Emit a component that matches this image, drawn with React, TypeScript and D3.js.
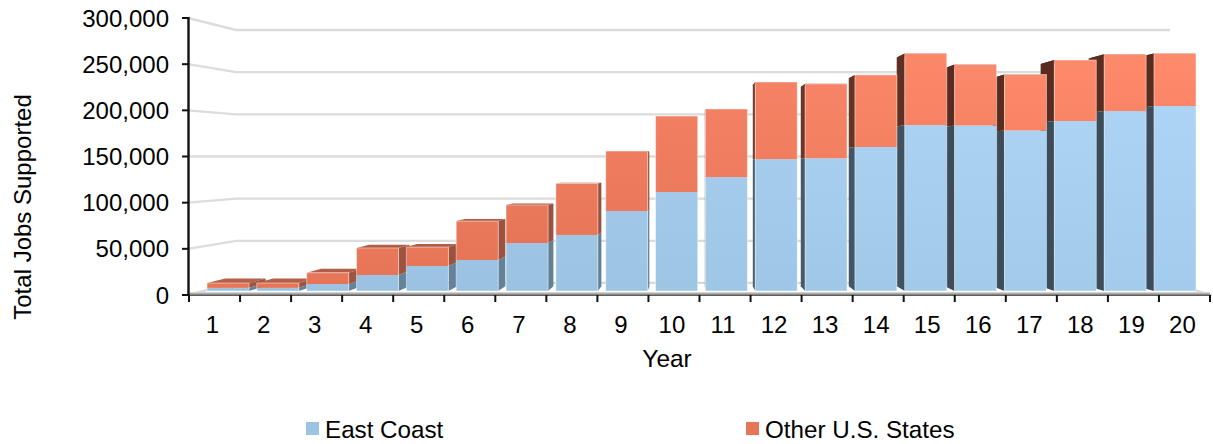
import React from "react";
import * as d3 from "d3";

const years = d3.range(1, 21).map(String);
const eastCoast = [3500, 3500, 7800, 17800, 27900, 34600, 53500, 62500, 89200, 110400, 127000, 147000, 148000, 160600, 185000, 184600, 179000, 189600, 200700, 206300];
const otherStates = [5400, 5400, 12600, 30200, 21100, 43400, 42500, 57500, 66800, 84600, 76000, 86000, 83000, 80400, 80000, 68000, 62400, 68000, 63300, 58700];
const yTicks = [0, 50000, 100000, 150000, 200000, 250000, 300000];
const seriesNames = ["East Coast", "Other U.S. States"];

const W = 1213, H = 444;
const FONT = "'Liberation Sans', Arial, sans-serif";
const axisFront = d3.scaleLinear().domain([0, 300000]).range([295, 18]);
const axisBack = d3.scaleLinear().domain([0, 300000]).range([283, 30]);
const barY = d3.scaleLinear().domain([0, 300000]).range([291, 22]);
const barX = d3.scaleBand<string>().domain(years).range([207, 1196]).paddingInner(0.157).paddingOuter(0);
const tickX = d3.scaleBand<string>().domain(years).range([189, 1210]);
const VX = 690, VY = 165, T = 0.0375;
const shift = (x: number, y: number): [number, number] => [x + (VX - x) * T, y + (VY - y) * T];

const tone = d3.scaleLinear<number>().domain([0, 6, 10, 14, 19]).range([0, 0.05, 0.45, 0.85, 1]).clamp(true);
const sideTone = d3.scaleLinear<number>().domain([0, 7, 12, 15]).range([0, 0.1, 0.75, 1]).clamp(true);
const blueTop = d3.interpolateRgb("#9CC3E2", "#ADD4F5");
const blueBot = d3.interpolateRgb("#9AC1E0", "#A2CBEC");
const redTop = d3.interpolateRgb("#E97759", "#FF8B6D");
const redBot = d3.interpolateRgb("#E57456", "#FA8567");
const blueSide = d3.interpolateRgb("#66859D", "#3C4C5A");
const redSide = d3.interpolateRgb("#A05540", "#5A2C20");
const redCap = d3.interpolateRgb("#B4604A", "#5A2C20");

const pts = (p: [number, number][]) => p.map((q) => q.join(",")).join(" ");

function Segment({ i, y0, y1, series }: { i: number; y0: number; y1: number; series: number }) {
  const l = barX(years[i])!;
  const r = l + barX.bandwidth();
  const sx = l > VX ? l : r;
  const showSide = Math.abs(sx - VX) > 1;
  const id = `g${series}-${i}`;
  const side = series === 0 ? blueSide(sideTone(i)) : redSide(sideTone(i));
  return (
    <g>
      <defs>
        <linearGradient id={id} x1="0" y1="0" x2="0" y2="1">
          <stop offset="0" stopColor={series === 0 ? blueTop(tone(i)) : redTop(tone(i))} />
          <stop offset="1" stopColor={series === 0 ? blueBot(tone(i)) : redBot(tone(i))} />
        </linearGradient>
      </defs>
      {showSide && <polygon points={pts([[sx, y1], shift(sx, y1), shift(sx, y0), [sx, y0]])} fill={side} />}
      <rect x={l} y={y1} width={r - l} height={y0 - y1} fill={`url(#${id})`} />
    </g>
  );
}

function Bar({ i }: { i: number }) {
  const l = barX(years[i])!;
  const r = l + barX.bandwidth();
  const base = barY(0);
  const mid = barY(eastCoast[i]);
  const top = barY(eastCoast[i] + otherStates[i]);
  return (
    <g>
      <polygon points={pts([[l, top], shift(l, top), shift(r, top), [r, top]])} fill={redCap(sideTone(i))} />
      <Segment i={i} y0={base} y1={mid} series={0} />
      <Segment i={i} y0={mid} y1={top} series={1} />
      <rect x={l} y={top} width={r - l} height={base - top} fill="none" stroke="#fff" strokeOpacity={0.45} strokeWidth={1} />
    </g>
  );
}

export default function App() {
  const order = d3.range(years.length).sort((a, b) => {
    const ca = barX(years[a])! + barX.bandwidth() / 2;
    const cb = barX(years[b])! + barX.bandwidth() / 2;
    return Math.abs(cb - VX) - Math.abs(ca - VX);
  });
  const textStyle = { fontFamily: FONT, fontSize: 24, fill: "#000" } as const;
  return (
    <svg width={W} height={H} style={{ position: "absolute", left: 0, top: 0, display: "block" }}>
      <defs>
        <linearGradient id="floorEdge" x1="0" y1="0" x2="0" y2="1">
          <stop offset="0" stopColor="#E6E6E6" />
          <stop offset="0.5" stopColor="#9A9A9A" />
          <stop offset="1" stopColor="#4A4A4A" />
        </linearGradient>
      </defs>
      <rect width={W} height={H} fill="#fff" />
      {yTicks.map((t) => (
        <polyline key={t} points={pts([[188, axisFront(t)], [236, axisBack(t)], [1170, axisBack(t)]])} fill="none" stroke="#DCDCDC" strokeWidth={2.4} />
      ))}
      <polygon points={pts([[188, 295], [236, axisBack(0)], [1170, axisBack(0)], [1212, 295]])} fill="#fff" stroke="#D8D8D8" strokeWidth={2} />
      {order.map((i) => <Bar key={i} i={i} />)}
      <rect x={188} y={292} width={1022} height={4} fill="url(#floorEdge)" />
      <line x1={188.5} x2={188.5} y1={17} y2={296} stroke="#111" strokeWidth={2.4} />
      {yTicks.map((t) => (
        <g key={t}>
          <line x1={182} x2={188} y1={axisFront(t)} y2={axisFront(t)} stroke="#111" strokeWidth={2} />
          <text x={169} y={axisFront(t)} dy="0.36em" textAnchor="end" style={textStyle}>{d3.format(",")(t)}</text>
        </g>
      ))}
      {[...years, ""].map((y, i) => {
        const x = y ? tickX(y)! : tickX.range()[1];
        return <line key={i} x1={x} x2={x} y1={295} y2={302} stroke="#111" strokeWidth={2} />;
      })}
      {years.map((y) => (
        <text key={y} x={tickX(y)! + tickX.bandwidth() / 2 - 2} y={333} textAnchor="middle" style={textStyle}>{y}</text>
      ))}
      <text x={667} y={367} textAnchor="middle" style={{ ...textStyle, fontSize: 24.4 }}>Year</text>
      <text transform="translate(31,207) rotate(-90)" textAnchor="middle" style={textStyle}>Total Jobs Supported</text>
      <rect x={306} y={422} width={13} height={13} fill="#9CC3E2" />
      <text x={325} y={438} style={{ ...textStyle, fontSize: 24.2 }}>{seriesNames[0]}</text>
      <rect x={746} y={422} width={13} height={13} fill="#E67558" />
      <text x={765} y={438} style={{ ...textStyle, fontSize: 24.2 }}>{seriesNames[1]}</text>
    </svg>
  );
}
